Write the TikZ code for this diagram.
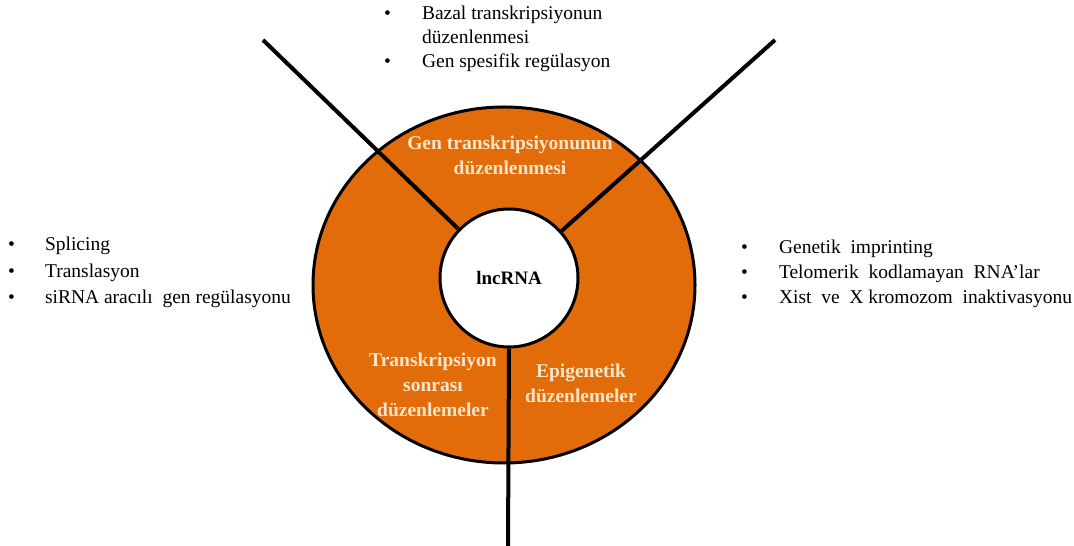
\documentclass[tikz,border=0pt]{standalone}
\usepackage{fontspec}
\setmainfont{Liberation Serif}
\usetikzlibrary{shapes.geometric,positioning}
\definecolor{ringorange}{HTML}{E36C0A}
\definecolor{ringtext}{HTML}{FCE6C9}
\tikzset{
  ring/.style={draw, ellipse, fill=ringorange, line width=3pt,
    minimum width=382pt, minimum height=356pt, inner sep=0pt},
  hub/.style={draw, circle, fill=white, line width=3pt,
    minimum size=138pt, inner sep=0pt, font=\fontsize{19}{22}\selectfont\bfseries},
  spoke/.style={line width=4pt},
  sector/.style={text=ringtext, align=center, inner sep=0pt,
    font=\fontsize{19.5}{25}\selectfont\bfseries},
  notes/.style={anchor=north west, inner sep=0pt,
    font=\fontsize{19.5}{#1}\selectfont}
}
\newcommand{\itembul}{\textbullet}

\begin{document}
\begin{tikzpicture}[x=1pt,y=1pt]
  \useasboundingbox (0,0) rectangle (1074,546);

  % ring and centre
  \node[ring] (ring) at (504,261) {};
  \node[hub] (lncrna) at (509,268) {lncRNA};

  % spokes
  \coordinate (nw end) at (263,506);
  \coordinate (ne end) at (775,506);
  \coordinate (s end) at (508,0);
  \draw[spoke] (nw end) -- (lncrna);
  \draw[spoke] (ne end) -- (lncrna);
  \draw[spoke] (lncrna.south) -- (s end);

  % sector labels
  \node[sector] (gene) at (510,390.5) {Gen transkripsiyonunun\\düzenlenmesi};
  \node[sector] (post) at (433,161) {Transkripsiyon\\sonrası\\düzenlemeler};
  \node[sector] (epi) at (581,163) {Epigenetik\\düzenlemeler};

  % bullet lists
  \node[notes=24] (top list) at (384,543.3) {%
    \begin{tabular}{@{}l@{\hspace{31pt}}l@{}}
      \itembul & Bazal transkripsiyonun\\
               & düzenlenmesi\\
      \itembul & Gen spesifik regülasyon
    \end{tabular}};
  \node[notes=26.5] (left list) at (8,314) {%
    \begin{tabular}{@{}l@{\hspace{30pt}}l@{}}
      \itembul & Splicing\\
      \itembul & Translasyon\\
      \itembul & siRNA aracılı\ \ gen regülasyonu
    \end{tabular}};
  \node[notes=25] (right list) at (741,310) {%
    \begin{tabular}{@{}l@{\hspace{31pt}}l@{}}
      \itembul & Genetik\ \ imprinting\\
      \itembul & Telomerik\ \ kodlamayan\ \ RNA’lar\\
      \itembul & Xist\ \ ve\ \ X kromozom\ \ inaktivasyonu
    \end{tabular}};
\end{tikzpicture}
\end{document}
